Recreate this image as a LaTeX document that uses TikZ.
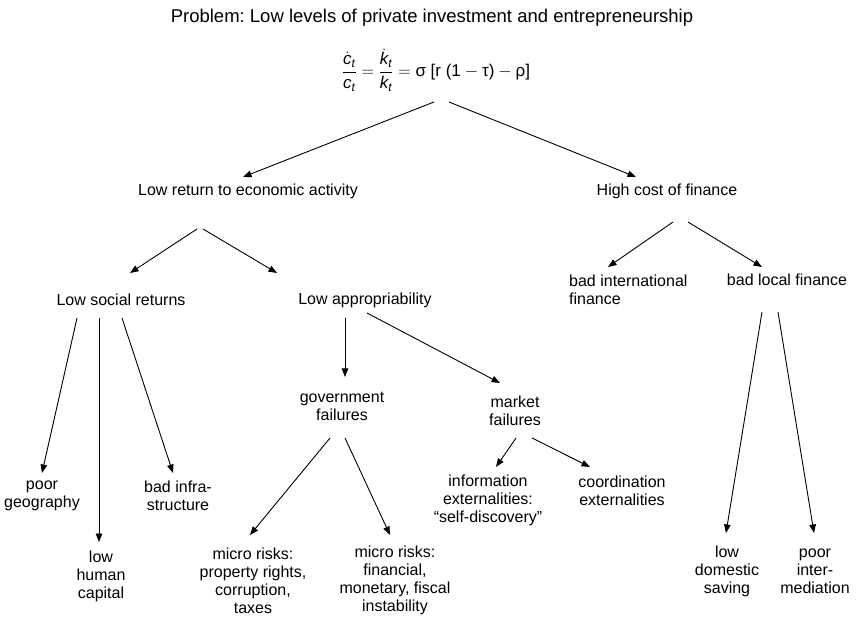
\documentclass[tikz,border=0pt]{standalone}
\usepackage{amsmath}
\usepackage{fontspec}
\setmainfont{Liberation Sans}
\usetikzlibrary{arrows.meta}
\frenchspacing
\tikzset{
  lbl/.style={font=\fontsize{16}{18}\selectfont, align=center, inner sep=0pt},
  ttl/.style={font=\fontsize{18.5}{22}\selectfont, inner sep=0pt},
  frm/.style={font=\fontsize{17}{20}\selectfont, inner sep=0pt},
  arr/.style={-{Triangle[length=8.5pt,width=6.5pt]}, line width=0.9pt, black}
}
\newcommand{\itx}[1]{\text{\itshape #1}}
\begin{document}
\begin{tikzpicture}[x=1pt,y=-1pt]
\fill[white] (0,0) rectangle (857,617);
\useasboundingbox (0,0) rectangle (857,617);

% nodes
\node[ttl] (title) at (432,18) {Problem: Low levels of private investment and entrepreneurship};
\node[frm] (formula) at (436,70) {$\dfrac{\dot{\itx{c}}_{\itx{t}}}{\itx{c}_{\itx{t}}}=\dfrac{\dot{\itx{k}}_{\itx{t}}}{\itx{k}_{\itx{t}}}=\text{σ [r (1}-\text{τ)}-\text{ρ]}$};
\node[lbl] (lowret) at (248,191) {Low return to economic activity};
\node[lbl] (highcost) at (667,191) {High cost of finance};
\node[lbl] (lowsoc) at (121,300) {Low social returns};
\node[lbl] (lowapp) at (365,300) {Low appropriability};
\node[lbl, align=left, anchor=west] (badint) at (569,289.5) {bad international\\finance};
\node[lbl] (badloc) at (787,280) {bad local finance};
\node[lbl] (geo) at (42,496) {poor\\geography};
\node[lbl] (infra) at (178,496) {bad infra-\\structure};
\node[lbl] (human) at (101,576) {low\\human\\capital};
\node[lbl] (gov) at (342,406) {government\\failures};
\node[lbl] (market) at (515,411) {market\\failures};
\node[lbl] (micro1) at (253,580.5) {micro risks:\\property rights,\\corruption,\\taxes};
\node[lbl] (micro2) at (395,580.5) {micro risks:\\financial,\\monetary, fiscal\\instability};
\node[lbl] (info) at (488,500) {information\\externalities:\\``self-discovery''};
\node[lbl] (coord) at (622,491) {coordination\\externalities};
\node[lbl] (domestic) at (727,571) {low\\domestic\\saving};
\node[lbl] (interm) at (815,571) {poor\\inter-\\mediation};

% connector ends
\coordinate (fL) at (434,102);  \coordinate (lowretT) at (243,177);
\coordinate (fR) at (449,102);  \coordinate (highcostT) at (636,177);
\coordinate (lrL) at (197,229); \coordinate (lowsocT) at (130,273);
\coordinate (lrR) at (203,229); \coordinate (lowappT) at (277,273);
\coordinate (hcL) at (673,222); \coordinate (badintT) at (608,267);
\coordinate (hcR) at (688,222); \coordinate (badlocT) at (762,267);
\coordinate (lsA) at (77,318);  \coordinate (geoT) at (42,473);
\coordinate (lsB) at (99,318);  \coordinate (humanT) at (99,542);
\coordinate (lsC) at (122,318); \coordinate (infraT) at (173,473);
\coordinate (laA) at (345,318); \coordinate (govT) at (345,377);
\coordinate (laB) at (367,313); \coordinate (marketT) at (500,383);
\coordinate (gvL) at (330,438); \coordinate (micro1T) at (250,535);
\coordinate (gvR) at (345,438); \coordinate (micro2T) at (390,535);
\coordinate (mkL) at (516,438); \coordinate (infoT) at (496,467);
\coordinate (mkR) at (532,438); \coordinate (coordT) at (590,467);
\coordinate (blL) at (762,312); \coordinate (domesticT) at (726,533);
\coordinate (blR) at (778,312); \coordinate (intermT) at (814,533);

% connectors
\draw[arr] (fL) -- (lowretT);
\draw[arr] (fR) -- (highcostT);
\draw[arr] (lrL) -- (lowsocT);
\draw[arr] (lrR) -- (lowappT);
\draw[arr] (hcL) -- (badintT);
\draw[arr] (hcR) -- (badlocT);
\draw[arr] (lsA) -- (geoT);
\draw[arr] (lsB) -- (humanT);
\draw[arr] (lsC) -- (infraT);
\draw[arr] (laA) -- (govT);
\draw[arr] (laB) -- (marketT);
\draw[arr] (gvL) -- (micro1T);
\draw[arr] (gvR) -- (micro2T);
\draw[arr] (mkL) -- (infoT);
\draw[arr] (mkR) -- (coordT);
\draw[arr] (blL) -- (domesticT);
\draw[arr] (blR) -- (intermT);
\end{tikzpicture}
\end{document}
